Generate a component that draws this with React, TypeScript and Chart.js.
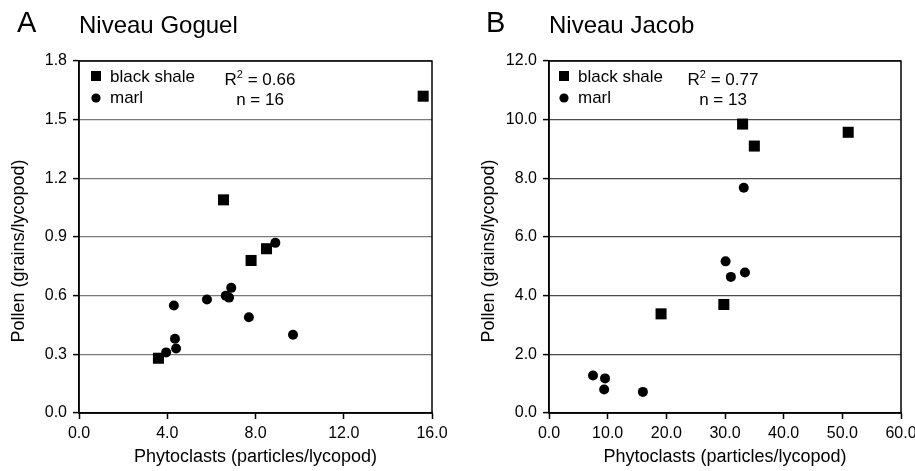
import { useEffect, useRef } from "react";
import { Chart, registerables } from "chart.js";

Chart.register(...registerables);

const FONT = '"Liberation Sans", Arial, Helvetica, sans-serif';

// ---- Data: Niveau Goguel (A) ----
const goguelShaleX = [15.6, 6.55, 7.8, 8.5, 3.6];
const goguelShaleY = [1.62, 1.09, 0.78, 0.84, 0.28];
const goguelMarlX = [3.95, 4.3, 4.35, 4.4, 5.8, 6.65, 6.8, 6.9, 7.7, 8.9, 9.7];
const goguelMarlY = [0.31, 0.55, 0.38, 0.33, 0.58, 0.6, 0.59, 0.64, 0.49, 0.87, 0.4];
const goguelXTicks = [0, 4, 8, 12, 16];
const goguelYTicks = [0, 0.3, 0.6, 0.9, 1.2, 1.5, 1.8];
const goguelStats = ["0.66", "16"];

// ---- Data: Niveau Jacob (B) ----
const jacobShaleX = [33, 35, 51, 29.8, 19.1];
const jacobShaleY = [9.85, 9.1, 9.57, 3.7, 3.38];
const jacobMarlX = [33.2, 30.1, 31, 33.4, 7.5, 9.55, 9.4, 16];
const jacobMarlY = [7.68, 5.17, 4.64, 4.79, 1.28, 1.18, 0.8, 0.72];
const jacobXTicks = [0, 10, 20, 30, 40, 50, 60];
const jacobYTicks = [0, 2, 4, 6, 8, 10, 12];
const jacobStats = ["0.77", "13"];

const seriesLabels = ["black shale", "marl"];
const xTitle = "Phytoclasts (particles/lycopod)";
const yTitle = "Pollen (grains/lycopod)";

type PanelCfg = {
  letter: string;
  title: string;
  letterX: number;
  titleX: number;
  yTitleX: number;
  legendX: number;
  statsCX: number;
  stats: string[];
};

function makePanelPlugin(cfg: PanelCfg) {
  return {
    id: "panelDecor",
    afterDraw(chart: any) {
      const { ctx, chartArea: a } = chart;
      ctx.save();
      // frame
      ctx.strokeStyle = "#000";
      ctx.lineWidth = 1.5;
      ctx.strokeRect(a.left, a.top, a.right - a.left, a.bottom - a.top);

      ctx.fillStyle = "#000";
      ctx.textAlign = "left";
      ctx.textBaseline = "alphabetic";
      ctx.font = `29px ${FONT}`;
      ctx.fillText(cfg.letter, cfg.letterX, 32);
      ctx.font = `24px ${FONT}`;
      ctx.fillText(cfg.title, cfg.titleX, 33);

      // y axis title
      ctx.save();
      ctx.translate(cfg.yTitleX, 251);
      ctx.rotate(-Math.PI / 2);
      ctx.textAlign = "center";
      ctx.textBaseline = "middle";
      ctx.font = `18px ${FONT}`;
      ctx.fillText(yTitle, 0, 0);
      ctx.restore();

      // legend
      const lx = a.left + cfg.legendX;
      ctx.fillRect(lx, a.top + 10, 10, 10);
      ctx.beginPath();
      ctx.arc(lx + 5, a.top + 37, 4.6, 0, Math.PI * 2);
      ctx.fill();
      ctx.font = `17px ${FONT}`;
      const labels = chart.data.datasets.map((d: any) => d.label);
      ctx.fillText(labels[0], lx + 19, a.top + 21);
      ctx.fillText(labels[1], lx + 19, a.top + 42);

      // stats
      const cx = a.left + cfg.statsCX;
      ctx.font = `17px ${FONT}`;
      const wR = ctx.measureText("R").width;
      const wRest = ctx.measureText(" = " + cfg.stats[0]).width;
      ctx.font = `11px ${FONT}`;
      const w2 = ctx.measureText("2").width;
      const total = wR + w2 + wRest;
      let x = cx - total / 2;
      const by = a.top + 24;
      ctx.font = `17px ${FONT}`;
      ctx.fillText("R", x, by);
      x += wR;
      ctx.font = `11px ${FONT}`;
      ctx.fillText("2", x, by - 7);
      x += w2;
      ctx.font = `17px ${FONT}`;
      ctx.fillText(" = " + cfg.stats[0], x, by);
      ctx.textAlign = "center";
      ctx.fillText("n = " + cfg.stats[1], cx, a.top + 44);
      ctx.restore();
    },
  };
}

function buildConfig(
  shaleX: number[],
  shaleY: number[],
  marlX: number[],
  marlY: number[],
  xTicks: number[],
  yTicks: number[],
  yAxisWidth: number,
  padRight: number,
  gridColor: string,
  panel: PanelCfg
): any {
  const shale = shaleX.map((x, i) => ({ x, y: shaleY[i] }));
  const marl = marlX.map((x, i) => ({ x, y: marlY[i] }));
  return {
    type: "scatter",
    data: {
      datasets: [
        {
          label: seriesLabels[0],
          data: shale,
          pointStyle: "rect",
          pointRadius: 7.8,
          backgroundColor: "#000",
          borderWidth: 0,
        },
        {
          label: seriesLabels[1],
          data: marl,
          pointStyle: "circle",
          pointRadius: 5,
          backgroundColor: "#000",
          borderWidth: 0,
        },
      ],
    },
    options: {
      responsive: false,
      animation: false,
      layout: { padding: { top: 61, right: padRight, left: 0, bottom: 0 } },
      plugins: { legend: { display: false }, tooltip: { enabled: false } },
      scales: {
        x: {
          type: "linear",
          min: xTicks[0],
          max: xTicks[xTicks.length - 1],
          afterBuildTicks: (s: any) => {
            s.ticks = xTicks.map((v) => ({ value: v }));
          },
          afterFit: (s: any) => {
            s.height = 58;
            s.paddingLeft = 0;
            s.paddingRight = 0;
          },
          ticks: {
            callback: (v: any) => Number(v).toFixed(1),
            font: { size: 16, family: FONT },
            color: "#000",
            padding: 5,
            maxRotation: 0,
          },
          grid: {
            drawOnChartArea: false,
            drawTicks: true,
            tickLength: 6,
            tickColor: "#000",
            tickWidth: 1.5,
          },
          border: { color: "#000", width: 1.5 },
          title: {
            display: true,
            text: xTitle,
            font: { size: 18, family: FONT },
            color: "#000",
            padding: { top: 0, bottom: 3 },
          },
        },
        y: {
          type: "linear",
          min: yTicks[0],
          max: yTicks[yTicks.length - 1],
          afterBuildTicks: (s: any) => {
            s.ticks = yTicks.map((v) => ({ value: v }));
          },
          afterFit: (s: any) => {
            s.width = yAxisWidth;
            s.paddingTop = 0;
            s.paddingBottom = 0;
          },
          ticks: {
            callback: (v: any) => Number(v).toFixed(1),
            font: { size: 16, family: FONT },
            color: "#000",
            padding: 6,
          },
          grid: {
            color: gridColor,
            lineWidth: 1.2,
            drawTicks: true,
            tickLength: 6,
            tickColor: "#000",
            tickWidth: 1.5,
          },
          border: { color: "#000", width: 1.5 },
        },
      },
    },
    plugins: [makePanelPlugin(panel)],
  };
}

function Panel(props: { left: number; width: number; config: () => any }) {
  const ref = useRef<HTMLCanvasElement | null>(null);
  useEffect(() => {
    if (!ref.current) return;
    const chart = new Chart(ref.current, props.config());
    return () => chart.destroy();
  }, []);
  return (
    <canvas
      ref={ref}
      width={props.width}
      height={471}
      style={{ position: "absolute", left: props.left, top: 0, width: props.width, height: 471 }}
    />
  );
}

export default function App() {
  return (
    <div
      style={{
        position: "fixed",
        left: 0,
        top: 0,
        width: 915,
        height: 471,
        background: "#fff",
        overflow: "hidden",
      }}
    >
      <Panel
        left={0}
        width={457}
        config={() =>
          buildConfig(
            goguelShaleX,
            goguelShaleY,
            goguelMarlX,
            goguelMarlY,
            goguelXTicks,
            goguelYTicks,
            79,
            25,
            "#7a7a7a",
            {
              letter: "A",
              title: "Niveau Goguel",
              letterX: 17,
              titleX: 79,
              yTitleX: 19,
              legendX: 12,
              statsCX: 181,
              stats: goguelStats,
            }
          )
        }
      />
      <Panel
        left={457}
        width={458}
        config={() =>
          buildConfig(
            jacobShaleX,
            jacobShaleY,
            jacobMarlX,
            jacobMarlY,
            jacobXTicks,
            jacobYTicks,
            92,
            14,
            "#4a4a4a",
            {
              letter: "B",
              title: "Niveau Jacob",
              letterX: 29,
              titleX: 92,
              yTitleX: 32,
              legendX: 10,
              statsCX: 174,
              stats: jacobStats,
            }
          )
        }
      />
    </div>
  );
}
